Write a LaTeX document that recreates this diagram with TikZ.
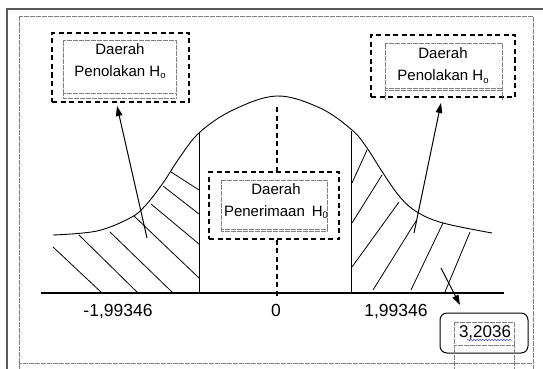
\documentclass[tikz,border=0pt]{standalone}
\usepackage{fontspec}
\setmainfont{Liberation Sans}
\usetikzlibrary{arrows.meta,decorations.pathmorphing}
\newcommand\hsub[1]{\raisebox{-0.35ex}{\fontsize{9.5}{9.5}\selectfont #1}}
\begin{document}
\begin{tikzpicture}[x=1pt,y=-1pt,
  dashbox/.style={draw, line width=1.2pt, dash pattern=on 5pt off 3.5pt, inner sep=0pt},
  dotbox/.style={draw=gray, line width=0.6pt, dash pattern=on 0.6pt off 0.6pt, inner sep=0pt},
  dotline/.style={draw=gray, line width=0.6pt, dash pattern=on 0.6pt off 0.6pt},
  boxtext/.style={font=\fontsize{15}{22}\selectfont, align=center, inner sep=0pt},
  axlab/.style={font=\fontsize{17.5}{18}\selectfont, inner sep=0pt, anchor=base},
  hatch/.style={line width=0.8pt},
  curve/.style={line width=0.9pt},
  arr/.style={line width=1pt, -{Triangle[length=10pt,width=6.5pt]}},
  cdash/.style={line width=1.1pt, dash pattern=on 5pt off 3.5pt}
]
\useasboundingbox (0,0) rectangle (543,369);
\fill[white] (0,0) rectangle (543,369);
% frames
\draw[line width=2pt, black!65] (7,372) -- (7,9) -- (546,9);
\draw[dotline] (19,369) -- (19,16) -- (533,16) -- (533,369);
\draw[dotline] (19,363) -- (533,363);

% bell curve
\draw[curve] plot[smooth, tension=0.6] coordinates {(53,235) (97,231) (130,218) (145,206) (163,183) (180,157) (200,132) (233,110) (277,96) (320,108) (352,130) (367,148) (383,173) (400,197) (417,212) (443,223) (492,233)};

% axis and critical lines
\draw[line width=1.2pt] (41,293) -- (504,293);
\draw[line width=1pt] (199,293) -- (199,132);
\draw[line width=1pt] (351,293) -- (351,131);

% left hatch
\draw[hatch] (53,247) -- (102,293);
\draw[hatch] (79,235) -- (138,293);
\draw[hatch] (110,232) -- (173,293);
\draw[hatch] (134,216) -- (199,278);
\draw[hatch] (151,204) -- (199,244);
\draw[hatch] (163,186) -- (199,214);
\draw[hatch] (171,172) -- (199,190);
% right hatch
\draw[hatch] (352,183) -- (367,150);
\draw[hatch] (352,223) -- (382,175);
\draw[hatch] (352,267) -- (399,202);
\draw[hatch] (373,290) -- (416,221);
\draw[hatch] (411,290) -- (443,223);
\draw[hatch] (445,292) -- (470,232);

% left box
\node[dashbox, minimum width=137pt, minimum height=69pt] (lbox) at (120.5,67.5) {};
\node[dotbox, minimum width=113pt, minimum height=53pt] (lin) at (119.5,66.5) {};
\draw[dotline] (63,93) -- (63,98) -- (176,98) -- (176,93);
\node[boxtext] (ltext) at (120,61) {Daerah\\Penolakan H\hsub{o}};

% right box
\node[dashbox, minimum width=144pt, minimum height=62pt] (rbox) at (443,66) {};
\node[dotbox, minimum width=117pt, minimum height=45pt] (rin) at (443.5,65.5) {};
\draw[dotline] (385,88) -- (385,100);
\draw[dotline] (502,88) -- (502,100);
\draw[dotline] (385,90) -- (502,90);
\node[boxtext] (rtext) at (443,65.5) {Daerah\\Penolakan H\hsub{o}};

% middle box
\node[dashbox, minimum width=130pt, minimum height=67pt] (mbox) at (274,205.5) {};
\node[dotbox, minimum width=106pt, minimum height=51pt] (min) at (274,205.5) {};
\draw[dotline] (221,229) -- (327,229);
\node[boxtext] (mtext) at (276,201) {Daerah\\Penerimaan\hspace{7pt}H\hsub{0}};

% centre dashed line
\draw[cdash] (277,107) -- (mbox.north -| 277,0);
\draw[cdash] (mbox.south -| 277,0) -- (277,297);

% axis labels
\node[axlab] (lm) at (118,316) {-1,99346};
\node[axlab] (l0) at (276,316) {0};
\node[axlab] (lp) at (396,316) {1,99346};

% value box
\node[draw, rounded corners=7pt, line width=1pt, minimum width=88pt, minimum height=40pt, inner sep=0pt] (vbox) at (484,333) {};
\node[dotbox, minimum width=60pt, minimum height=23pt] (vin) at (484,333.5) {};
\draw[dotline] (454,345) -- (454,369);
\draw[dotline] (514,345) -- (514,369);
\node[axlab, font=\fontsize{17}{18}\selectfont] (val) at (485,337) {3,2036};
\draw[blue!40!gray, line width=0.5pt, decorate, decoration={snake, amplitude=0.8pt, segment length=3pt}] (467,340) -- (512,340);

% arrows
\coordinate (la) at (147,238);
\coordinate (lt) at (117,106);
\coordinate (ra) at (414,233);
\coordinate (rt) at (441,103);
\coordinate (va) at (441,268);
\coordinate (vt) at (460,305);
\draw[arr] (la) -- (lt);
\draw[arr] (ra) -- (rt);
\draw[arr] (va) -- (vt);
\end{tikzpicture}
\end{document}
